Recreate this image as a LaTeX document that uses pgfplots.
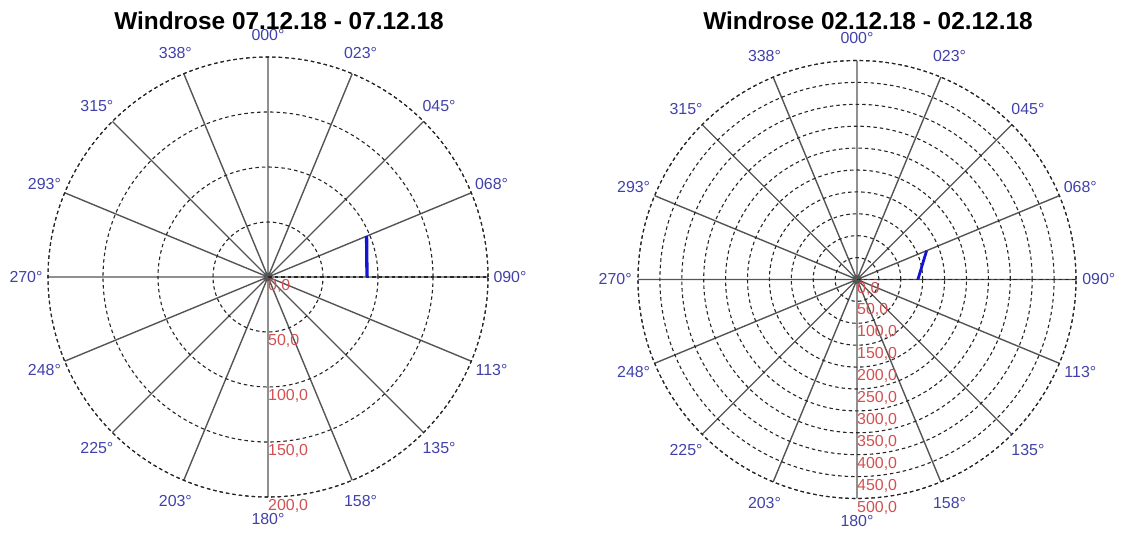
\documentclass[border=0pt]{standalone}
\usepackage{pgfplots}
\pgfplotsset{compat=1.18}
\usepgfplotslibrary{polar}
\usepackage{fontspec}
\setmainfont{Liberation Sans}
\definecolor{lblblue}{RGB}{65,65,170}
\definecolor{lblred}{RGB}{210,80,80}
\definecolor{spoke}{RGB}{85,85,85}
\definecolor{barblue}{RGB}{20,20,210}

\tikzset{
  lbl/.style={text=lblblue, font=\fontsize{16}{16}\selectfont, inner sep=0pt, anchor=center},
  rl/.style={text=lblred, font=\fontsize{16}{16}\selectfont, inner sep=0pt, anchor=west, yshift=-9bp},
}
\pgfplotsset{windrose/.style={
  scale only axis, width=#1, height=#1, anchor=center,
  xmin=0, xmax=360, ymin=0,
  xtick={0,22.5,45,67.5,90,112.5,135,157.5,180,202.5,225,247.5,270,292.5,315,337.5},
  xticklabels={}, yticklabels={},
  major tick length=0pt,
  grid=major,
  x grid style={spoke, line width=1.4bp, solid},
  y grid style={black!85, line width=1.1bp, dash pattern=on 3.5bp off 3bp},
  axis line style={black!85, line width=1.1bp, dash pattern=on 3.5bp off 3bp},
  clip=false,
}}

\newcommand\dirlabels[1]{%
 \node[lbl] at (axis cs:90,#1) {000°};
 \node[lbl] at (axis cs:67.5,#1) {023°};
 \node[lbl] at (axis cs:45,#1) {045°};
 \node[lbl] at (axis cs:22.5,#1) {068°};
 \node[lbl] at (axis cs:0,#1) {090°};
 \node[lbl] at (axis cs:337.5,#1) {113°};
 \node[lbl] at (axis cs:315,#1) {135°};
 \node[lbl] at (axis cs:292.5,#1) {158°};
 \node[lbl] at (axis cs:270,#1) {180°};
 \node[lbl] at (axis cs:247.5,#1) {203°};
 \node[lbl] at (axis cs:225,#1) {225°};
 \node[lbl] at (axis cs:202.5,#1) {248°};
 \node[lbl] at (axis cs:180,#1) {270°};
 \node[lbl] at (axis cs:157.5,#1) {293°};
 \node[lbl] at (axis cs:135,#1) {315°};
 \node[lbl] at (axis cs:112.5,#1) {338°};
}

\begin{document}
\begin{tikzpicture}
\path[use as bounding box] (0,0) rectangle (1122bp,533bp);

\node[font=\fontsize{24.5}{24.5}\selectfont\bfseries, anchor=base] at (279bp,503bp) {Windrose 07.12.18 - 07.12.18};
\node[font=\fontsize{24.5}{24.5}\selectfont\bfseries, anchor=base] at (868bp,503bp) {Windrose 02.12.18 - 02.12.18};

\begin{polaraxis}[windrose=440bp, ymax=200, ytick={50,100,150,200}, at={(268bp,256bp)}]
\addplot[barblue, line width=3.3bp] coordinates {(0,90) (22.5,97)};
\dirlabels{220}
\node[rl] at (axis cs:270,0) {0,0};
\node[rl] at (axis cs:270,50) {50,0};
\node[rl] at (axis cs:270,100) {100,0};
\node[rl] at (axis cs:270,150) {150,0};
\node[rl] at (axis cs:270,200) {200,0};
\end{polaraxis}

\begin{polaraxis}[windrose=438bp, ymax=500, ytick={50,100,150,200,250,300,350,400,450,500}, at={(857bp,253.5bp)}]
\addplot[barblue, line width=2.8bp] coordinates {(0,139) (22.5,172)};
\dirlabels{552}
\node[rl] at (axis cs:270,0) {0,0};
\node[rl] at (axis cs:270,50) {50,0};
\node[rl] at (axis cs:270,100) {100,0};
\node[rl] at (axis cs:270,150) {150,0};
\node[rl] at (axis cs:270,200) {200,0};
\node[rl] at (axis cs:270,250) {250,0};
\node[rl] at (axis cs:270,300) {300,0};
\node[rl] at (axis cs:270,350) {350,0};
\node[rl] at (axis cs:270,400) {400,0};
\node[rl] at (axis cs:270,450) {450,0};
\node[rl] at (axis cs:270,500) {500,0};
\end{polaraxis}
\end{tikzpicture}
\end{document}
